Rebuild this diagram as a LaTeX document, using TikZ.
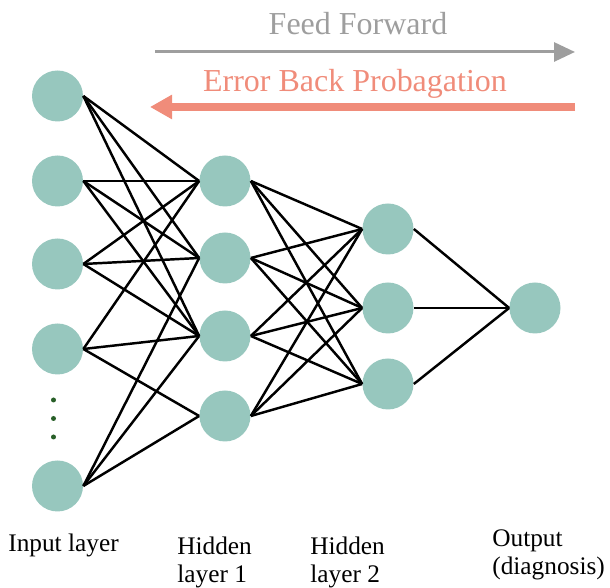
\documentclass[tikz,border=0pt]{standalone}
\usepackage{fontspec}
\setmainfont{Liberation Serif}
\usepackage{xcolor}
\usepackage{tikz}
\usetikzlibrary{positioning,arrows.meta}

\definecolor{neurongreen}{RGB}{151,199,190}
\definecolor{backred}{RGB}{240,140,122}
\definecolor{forwardgray}{RGB}{158,158,158}
\definecolor{dotgreen}{RGB}{40,95,40}

\begin{document}
\begin{tikzpicture}[
    neuron/.style={circle, fill=neurongreen, minimum size=1.02cm, inner sep=0pt},
    link/.style={line width=1.4pt},
    flowlabel/.style={anchor=base, inner sep=0pt, font=\fontsize{18.2}{20}\selectfont},
    layerlabel/.style={align=left, anchor=base west, inner sep=0pt, font=\fontsize{14.4}{16}\selectfont}]
    \useasboundingbox (0,0) rectangle (12.2,11.76);

    \foreach \y [count=\i] in {9.84,8.14,6.48,4.78,2.04}
        \node[neuron] (in-\i) at (1.15,\y) {};
    \foreach \y [count=\i] in {8.14,6.6,5.04,3.44}
        \node[neuron] (hA-\i) at (4.5,\y) {};
    \foreach \y [count=\i] in {7.18,5.6,4.08}
        \node[neuron] (hB-\i) at (7.76,\y) {};
    \node[neuron] (out) at (10.7,5.6) {};
    \foreach \y in {3.76,3.39,3.02}
        \fill[dotgreen] (1.07,\y) circle (0.05);

    \foreach \i/\j in {1/1,1/2,1/3,2/1,2/2,2/3,3/1,3/2,3/3,4/1,4/3,4/4,5/2,5/3,5/4}
        \draw[link] (in-\i.east) -- (hA-\j.west);
    \foreach \i in {1,...,4}
        \foreach \j in {1,2,3}
            \draw[link] (hA-\i.east) -- (hB-\j.west);
    \foreach \j in {1,2,3}
        \draw[link] (hB-\j.east) -- (out.west);

    \coordinate (ff-start) at (3.1,10.72);
    \coordinate (ff-end) at (11.5,10.72);
    \coordinate (bp-start) at (11.5,9.62);
    \coordinate (bp-end) at (3.0,9.62);
    \draw[forwardgray, line width=1.7pt, -{Triangle[length=0.42cm,width=0.38cm]}] (ff-start) -- (ff-end);
    \draw[backred, line width=4.5pt, -{Triangle[length=0.44cm,width=0.46cm]}] (bp-start) -- (bp-end);
    \node[flowlabel, forwardgray] (ff-label) at (7.16,11.07) {Feed Forward};
    \node[flowlabel, backred] (bp-label) at (7.1,9.93) {Error Back Probagation};

    \node[layerlabel] (in-label) at (0.16,0.72) {Input layer};
    \node[layerlabel] (hA-label) at (3.54,0.10) {Hidden\\layer 1};
    \node[layerlabel] (hB-label) at (6.2,0.10) {Hidden\\layer 2};
    \node[layerlabel] (out-label) at (9.84,0.26) {Output\\(diagnosis)};
\end{tikzpicture}
\end{document}
